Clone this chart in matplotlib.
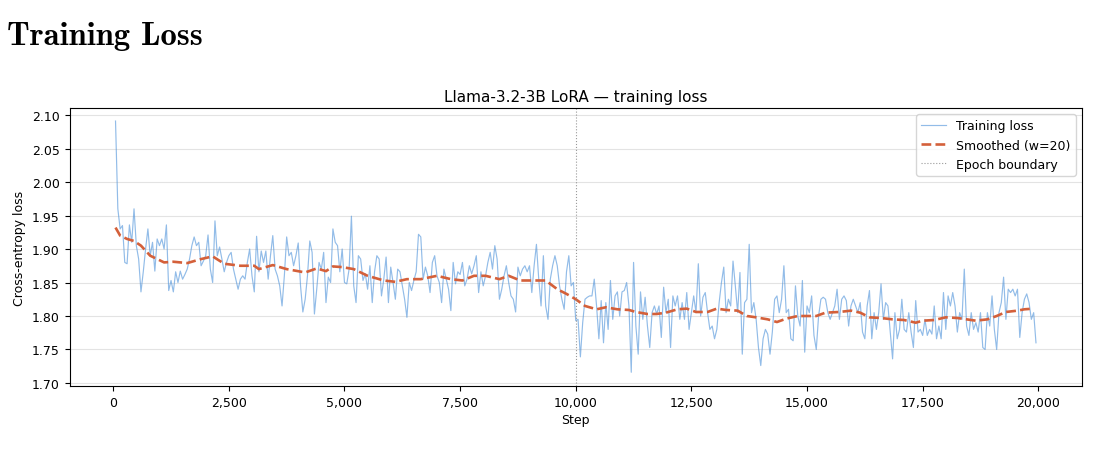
import numpy as np
import matplotlib
matplotlib.use("Agg")
import matplotlib.pyplot as plt
from matplotlib.ticker import FuncFormatter, MultipleLocator

# ---- data ----
steps = np.arange(50, 20000, 50)  # logging steps

loss = [
    # 50 - 1000
    2.091, 1.960, 1.930, 1.935, 1.880, 1.878, 1.936, 1.910, 1.960, 1.905,
    1.885, 1.836, 1.866, 1.900, 1.930, 1.890, 1.910, 1.867, 1.915, 1.905,
    # 1050 - 2000
    1.915, 1.900, 1.936, 1.838, 1.853, 1.836, 1.866, 1.850, 1.867, 1.855,
    1.862, 1.870, 1.885, 1.905, 1.918, 1.905, 1.910, 1.875, 1.882, 1.890,
    # 2050 - 3000
    1.921, 1.870, 1.850, 1.942, 1.890, 1.903, 1.885, 1.866, 1.880, 1.890,
    1.895, 1.870, 1.855, 1.840, 1.855, 1.860, 1.855, 1.880, 1.900, 1.860,
    # 3050 - 4000
    1.836, 1.919, 1.866, 1.897, 1.880, 1.897, 1.855, 1.890, 1.920, 1.870,
    1.860, 1.845, 1.815, 1.860, 1.918, 1.890, 1.895, 1.875, 1.890, 1.909,
    # 4050 - 5000
    1.845, 1.806, 1.825, 1.860, 1.912, 1.895, 1.803, 1.840, 1.880, 1.870,
    1.895, 1.820, 1.858, 1.850, 1.930, 1.910, 1.905, 1.866, 1.900, 1.850,
    # 5050 - 6000
    1.848, 1.870, 1.949, 1.845, 1.820, 1.890, 1.885, 1.853, 1.863, 1.840,
    1.875, 1.820, 1.866, 1.890, 1.885, 1.830, 1.855, 1.888, 1.820, 1.873,
    # 6050 - 7000
    1.850, 1.825, 1.870, 1.866, 1.845, 1.825, 1.798, 1.850, 1.838, 1.853,
    1.866, 1.922, 1.918, 1.855, 1.873, 1.860, 1.835, 1.880, 1.890, 1.860,
    # 7050 - 8000
    1.850, 1.820, 1.870, 1.855, 1.840, 1.808, 1.880, 1.848, 1.866, 1.862,
    1.880, 1.845, 1.855, 1.875, 1.863, 1.875, 1.890, 1.835, 1.866, 1.845,
    # 8050 - 9000
    1.860, 1.880, 1.895, 1.870, 1.905, 1.885, 1.825, 1.840, 1.860, 1.875,
    1.850, 1.830, 1.825, 1.806, 1.873, 1.860, 1.870, 1.875, 1.866, 1.875,
    # 9050 - 10000
    1.835, 1.875, 1.907, 1.855, 1.815, 1.890, 1.815, 1.795, 1.855, 1.875,
    1.890, 1.875, 1.845, 1.825, 1.810, 1.866, 1.890, 1.845, 1.850, 1.793,
    # 10050 - 11000
    1.795, 1.739, 1.790, 1.825, 1.828, 1.830, 1.830, 1.855, 1.815, 1.766,
    1.823, 1.760, 1.820, 1.780, 1.853, 1.795, 1.830, 1.836, 1.800, 1.836,
    # 11050 - 12000
    1.838, 1.850, 1.815, 1.716, 1.880, 1.785, 1.743, 1.836, 1.795, 1.828,
    1.785, 1.753, 1.805, 1.815, 1.803, 1.815, 1.768, 1.843, 1.805, 1.825,
    # 12050 - 13000
    1.753, 1.830, 1.815, 1.830, 1.795, 1.820, 1.795, 1.835, 1.780, 1.805,
    1.830, 1.805, 1.878, 1.800, 1.828, 1.835, 1.805, 1.780, 1.785, 1.766,
    # 13050 - 14000
    1.780, 1.820, 1.850, 1.873, 1.805, 1.825, 1.815, 1.882, 1.845, 1.805,
    1.865, 1.743, 1.820, 1.825, 1.907, 1.805, 1.820, 1.795, 1.753, 1.726,
    # 14050 - 15000
    1.766, 1.780, 1.773, 1.743, 1.776, 1.825, 1.830, 1.805, 1.825, 1.875,
    1.805, 1.810, 1.766, 1.763, 1.845, 1.800, 1.785, 1.853, 1.746, 1.815,
    # 15050 - 16000
    1.805, 1.830, 1.771, 1.750, 1.800, 1.825, 1.828, 1.825, 1.805, 1.795,
    1.805, 1.815, 1.840, 1.795, 1.825, 1.830, 1.823, 1.785, 1.815, 1.825,
    # 16050 - 17000
    1.815, 1.805, 1.820, 1.776, 1.766, 1.815, 1.838, 1.766, 1.805, 1.780,
    1.805, 1.848, 1.795, 1.820, 1.815, 1.776, 1.736, 1.805, 1.766, 1.780,
    # 17050 - 18000
    1.825, 1.780, 1.776, 1.805, 1.776, 1.753, 1.823, 1.776, 1.780, 1.771,
    1.795, 1.771, 1.780, 1.773, 1.815, 1.766, 1.785, 1.766, 1.835, 1.780,
    # 18050 - 19000
    1.830, 1.815, 1.835, 1.815, 1.776, 1.805, 1.795, 1.870, 1.785, 1.771,
    1.805, 1.780, 1.790, 1.776, 1.805, 1.753, 1.750, 1.805, 1.785, 1.830,
    # 19050 - 19950
    1.780, 1.750, 1.805, 1.820, 1.858, 1.795, 1.840, 1.835, 1.840, 1.830,
    1.840, 1.768, 1.805, 1.825, 1.833, 1.820, 1.795, 1.805, 1.760,
]

smooth_steps = [
    50, 150, 300, 450, 600, 800, 1100, 1300, 1600, 1900, 2150, 2400, 2750,
    3050, 3150, 3450, 3750, 4150, 4400, 4600, 4750, 4950, 5200, 5500, 5850,
    6100, 6350, 6650, 7000, 7300, 7550, 7800, 8050, 8350, 8550, 8800, 9100,
    9350, 9600, 9800, 10000, 10200, 10450, 10650, 10900, 11150, 11300, 11550,
    11750, 11950, 12200, 12400, 12600, 12850, 13050, 13250, 13500, 13700,
    13900, 14150, 14350, 14550, 14800, 15000, 15200, 15400, 15700, 15950,
    16150, 16350, 16600, 16850, 17100, 17350, 17500, 17750, 18000, 18250,
    18450, 18650, 18900, 19100, 19300, 19550, 19700, 19900,
]
smooth_vals = [
    1.932, 1.920, 1.915, 1.912, 1.905, 1.890, 1.880, 1.881, 1.879, 1.885,
    1.889, 1.878, 1.875, 1.875, 1.870, 1.876, 1.870, 1.865, 1.871, 1.867,
    1.874, 1.873, 1.870, 1.860, 1.853, 1.851, 1.855, 1.855, 1.860, 1.855,
    1.853, 1.860, 1.860, 1.855, 1.860, 1.853, 1.853, 1.853, 1.840, 1.833,
    1.825, 1.815, 1.810, 1.813, 1.810, 1.809, 1.806, 1.803, 1.803, 1.805,
    1.810, 1.811, 1.806, 1.806, 1.811, 1.809, 1.808, 1.800, 1.798, 1.795,
    1.791, 1.796, 1.800, 1.800, 1.800, 1.805, 1.806, 1.808, 1.805, 1.798,
    1.797, 1.795, 1.794, 1.790, 1.793, 1.794, 1.798, 1.797, 1.795, 1.793,
    1.795, 1.800, 1.806, 1.808, 1.810, 1.811,
]

epoch_boundary = 10000

page_title = "Training Loss"
chart_title = "Llama-3.2-3B LoRA \u2014 training loss"
x_label = "Step"
y_label = "Cross-entropy loss"
labels = ["Training loss", "Smoothed (w=20)", "Epoch boundary"]

# ---- figure ----
fig = plt.figure(figsize=(11.19, 4.52), dpi=100)
fig.text(7 / 1119, 1 - 45 / 452, page_title, fontfamily="cmb10",
         fontsize=23.5, ha="left", va="baseline", color="black")

ax = fig.add_axes([69.5 / 1119, 1 - 387 / 452, (1082 - 69.5) / 1119, (387 - 109) / 452])

ax.plot(steps, loss, color="#4a90d9", alpha=0.6, lw=0.85, label=labels[0])
ax.plot(smooth_steps, smooth_vals, color="#d4603a", lw=1.9, ls=(0, (3.7, 1.6)),
        label=labels[1])
ax.axvline(epoch_boundary, color="gray", ls=":", lw=0.8, alpha=0.8, label=labels[2])

ax.set_ylim(1.6955, 2.1105)
ax.set_xlim(-945, 20945)
ax.yaxis.set_major_locator(MultipleLocator(0.05))
ax.yaxis.set_major_formatter(FuncFormatter(lambda v, p: f"{v:.2f}"))
ax.xaxis.set_major_locator(MultipleLocator(2500))
ax.xaxis.set_major_formatter(FuncFormatter(lambda v, p: f"{v:,.0f}"))
ax.grid(axis="y", color="#dddddd", lw=0.8, alpha=0.8)
ax.set_axisbelow(True)

ax.set_title(chart_title, fontsize=11, pad=5)
ax.set_xlabel(x_label, fontsize=9, labelpad=3)
ax.set_ylabel(y_label, fontsize=9, labelpad=4)
ax.tick_params(labelsize=9)
ax.legend(loc="upper right", fontsize=9, framealpha=0.8)

fig.savefig("out.png", dpi=100)
